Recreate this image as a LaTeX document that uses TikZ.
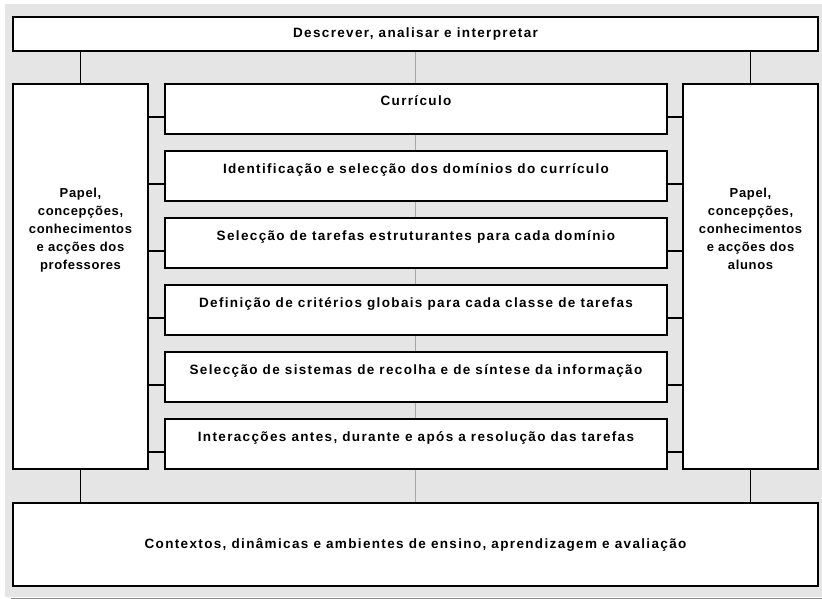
\documentclass[tikz,border=0pt]{standalone}
\usepackage{fontspec}
\setmainfont{Liberation Sans}
\newfontfamily\boxfont{Liberation Sans}[LetterSpace=10]
\newfontfamily\sidefont{Liberation Sans}[LetterSpace=5]
\usetikzlibrary{positioning}

\begin{document}
\begin{tikzpicture}[x=1pt, y=-1pt,
  box/.style={draw=black, line width=1.6pt, fill=white, inner sep=0pt,
    font=\boxfont\bfseries\fontsize{13.5}{18}\selectfont},
  widebox/.style={box, minimum width=805pt},
  stepbox/.style={box, minimum width=502pt, minimum height=50pt,
    text height=9pt, text depth=15pt},
  sidebox/.style={box, minimum width=135pt, minimum height=385pt},
  sidetxt/.style={align=center, inner sep=0pt,
    font=\sidefont\bfseries\fontsize{13}{18}\selectfont},
  link/.style={line width=1.6pt}]
  \useasboundingbox (0,0) rectangle (822,599);

  % grey panel behind everything
  \fill[black!10] (5,4) rectangle (822,597);
  \draw[black!45, line width=0.8pt] (11,598) -- (822,598);

  % top and bottom bands
  \node[widebox, minimum height=34pt] (top) at (415.5,34) {Descrever, analisar e interpretar};
  \node[widebox, minimum height=83pt] (bot) at (415.5,544.5)
    {Contextos, dinâmicas e ambientes de ensino, aprendizagem e avaliação};

  % thin middle rule, hidden by the boxes
  \draw[black!35, line width=0.8pt] (top.south) -- (bot.north);

  % side columns
  \node[sidebox] (prof) at (80.5,276.5) {};
  \node[sidebox] (alun) at (750.5,276.5) {};
  \node[sidetxt, below=105pt of prof.north] (proftxt)
    {Papel,\\concepções,\\conhecimentos\\e acções dos\\professores};
  \node[sidetxt, below=105pt of alun.north] (aluntxt)
    {Papel,\\concepções,\\conhecimentos\\e acções dos\\alunos};

  \draw[link] (prof.north) -- (prof.north |- top.south);
  \draw[link] (alun.north) -- (alun.north |- top.south);
  \draw[link] (prof.south) -- (prof.south |- bot.north);
  \draw[link] (alun.south) -- (alun.south |- bot.north);

  % the six steps
  \foreach \txt [count=\i] in {{Currículo},
      {Identificação e selecção dos domínios do currículo},
      {Selecção de tarefas estruturantes para cada domínio},
      {Definição de critérios globais para cada classe de tarefas},
      {Selecção de sistemas de recolha e de síntese da informação},
      {Interacções antes, durante e após a resolução das tarefas}}
  {
    \node[stepbox] (s\i) at (416,{109+67*(\i-1)}) {\txt};
    \draw[link] ([yshift=-8pt]s\i.west) -- ([yshift=-8pt]s\i.west -| prof.east);
    \draw[link] ([yshift=-8pt]s\i.east) -- ([yshift=-8pt]s\i.east -| alun.west);
  }
\end{tikzpicture}
\end{document}
